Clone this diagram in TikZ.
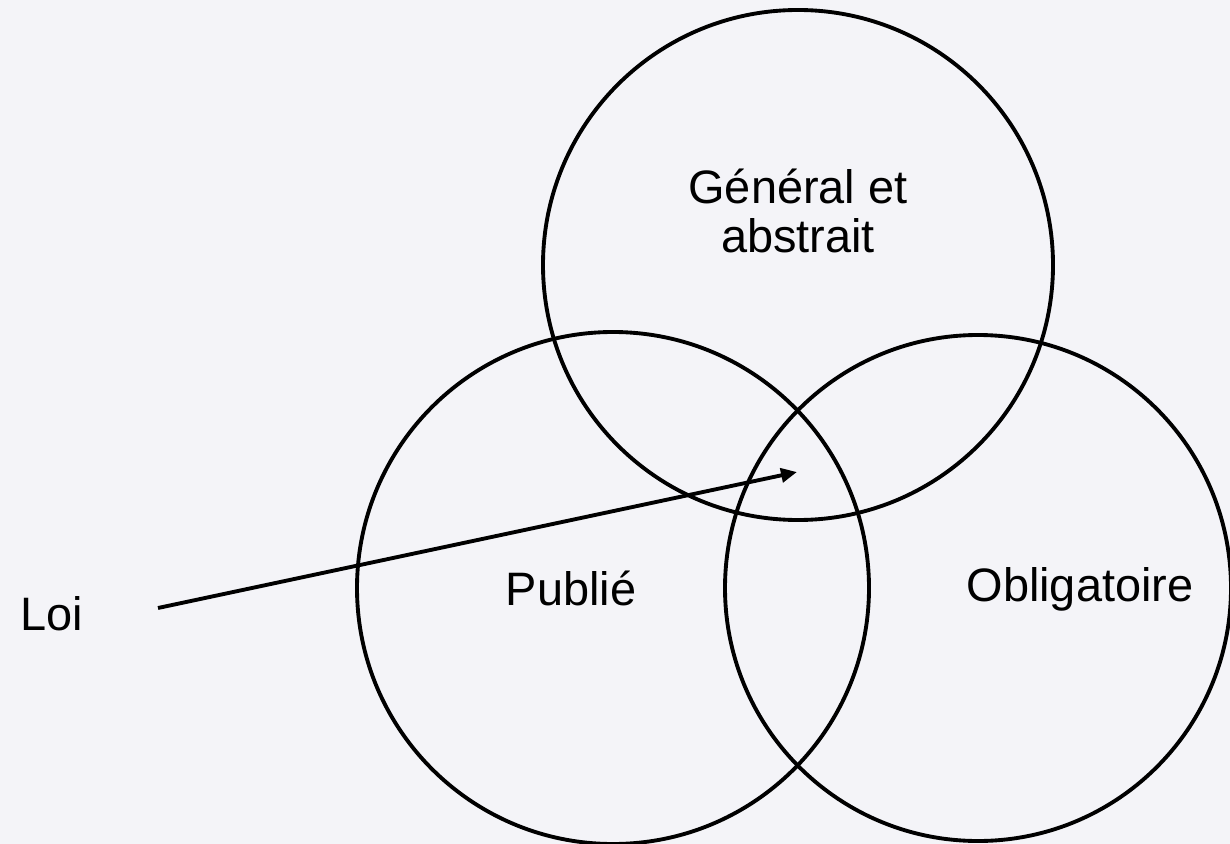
\documentclass[tikz,border=0pt]{standalone}
\usepackage{fontspec}
\setmainfont{Liberation Sans}
\usetikzlibrary{arrows.meta}
\definecolor{bgpage}{RGB}{244,244,248}

\begin{document}
\begin{tikzpicture}[x=0.02cm, y=-0.02cm, font=\fontsize{26.7}{27.8}\selectfont]
			\fill[bgpage] (0,0) rectangle (1230,844);
			\useasboundingbox (0,0) rectangle (1230,844);
			\draw[black, line width=2.2pt] (798,265) circle (255);
			\draw[black, line width=2.2pt] (613,588) circle (256);
			\draw[black, line width=2.2pt] (978,588) circle (253);
			\node[align=center] (gen) at (798,211) {Général et\\abstrait};
			\node (pub) at (571,588) {Publié};
			\node (obl) at (1080,589) {Obligatoire};
			\node[anchor=east] (loi) at (89,614) {Loi};
			\coordinate (tip) at (797,472);
			\draw[line width=2.2pt, -{Triangle[length=0.32cm,width=0.28cm]}] ([xshift=1.38cm,yshift=0.12cm]loi.east) -- (tip);
		\end{tikzpicture}
\end{document}
